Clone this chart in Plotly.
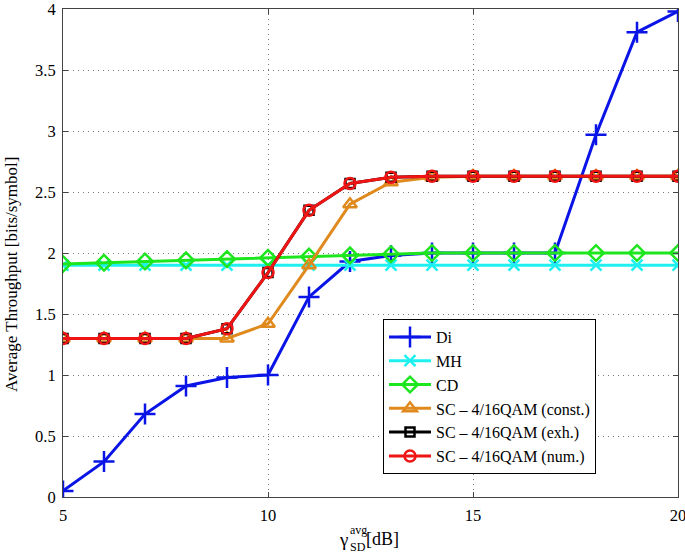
import plotly.graph_objects as go

snr_db = list(range(5, 21))
di = [0.05, 0.29, 0.68, 0.91, 0.98, 1.0, 1.64, 1.93, 1.98, 2.0, 2.0, 2.0, 2.0, 2.97, 3.81, 3.98]
mh = [1.9] * 16
cd = [1.91, 1.92, 1.93, 1.94, 1.95, 1.96, 1.97, 1.98, 1.99, 2.0, 2.0, 2.0, 2.0, 2.0, 2.0, 2.0]
sc_const = [1.3, 1.3, 1.3, 1.3, 1.3, 1.42, 1.9, 2.4, 2.58, 2.62, 2.63, 2.63, 2.63, 2.63, 2.63, 2.63]
sc_exh = [1.3, 1.3, 1.3, 1.3, 1.38, 1.84, 2.35, 2.57, 2.62, 2.63, 2.63, 2.63, 2.63, 2.63, 2.63, 2.63]
sc_num = [1.3, 1.3, 1.3, 1.3, 1.38, 1.84, 2.35, 2.57, 2.62, 2.63, 2.63, 2.63, 2.63, 2.63, 2.63, 2.63]

series = [
    ("Di", di, "#0a14e6", "cross-thin-open", 15),
    ("MH", mh, "#1ef0f0", "x-thin-open", 11),
    ("CD", cd, "#1ee61e", "diamond-open", 12),
    ("SC \u2013 4/16QAM (const.)", sc_const, "#e08a1e", "triangle-up-open", 12),
    ("SC \u2013 4/16QAM (exh.)", sc_exh, "#000000", "square-open", 9),
    ("SC \u2013 4/16QAM (num.)", sc_num, "#f01414", "circle-open", 11),
]

fig = go.Figure()
for name, vals, color, sym, size in series:
    fig.add_trace(go.Scatter(
        x=snr_db, y=vals, name=name, mode="lines+markers",
        line=dict(color=color, width=3),
        marker=dict(symbol=sym, size=size, color=color, line=dict(color=color, width=2.5)),
    ))

font = "Liberation Serif, Times New Roman, serif"
axis_common = dict(
    showline=True, linecolor="#444", linewidth=1, mirror="ticks",
    ticks="inside", ticklen=5, tickcolor="#444",
    showgrid=True, gridcolor="#777", griddash="1px,4px", gridwidth=1,
    zeroline=False, tickfont=dict(family=font, size=16.5, color="black"),
    automargin=False, ticklabeloverflow="allow",
)
fig.update_xaxes(range=[5, 20], dtick=5, ticklabelstandoff=3, **axis_common)
fig.update_yaxes(range=[0, 4], dtick=0.5, ticklabelstandoff=3, **axis_common)

L, R, T, B = 63, 7, 9, 57
W, H = 685, 554
pw, ph = W - L - R, H - T - B

def px(xp):
    return (xp - L) / pw

def py(yp):
    return (H - B - yp) / ph

annots = [
    dict(text="Average Throughput [bits/symbol]", x=px(11), y=py(275), textangle=-90,
         font=dict(family=font, size=17, color="black")),
    dict(text="\u03b3", x=px(343), y=py(539), font=dict(family=font, size=19, color="black")),
    dict(text="avg", x=px(348), y=py(530), xanchor="left", font=dict(family=font, size=12, color="black")),
    dict(text="SD", x=px(348), y=py(547), xanchor="left", font=dict(family=font, size=12, color="black")),
    dict(text="[dB]", x=px(364), y=py(539), xanchor="left", font=dict(family=font, size=18, color="black")),
]
for a in annots:
    a.update(xref="paper", yref="paper", showarrow=False, yanchor="middle")
    a.setdefault("xanchor", "center")
    fig.add_annotation(**a)

fig.update_layout(
    width=W, height=H,
    margin=dict(l=L, r=R, t=T, b=B),
    paper_bgcolor="white", plot_bgcolor="white",
    font=dict(family=font, size=15, color="black"),
    legend=dict(x=px(383), y=py(319), xanchor="left", yanchor="top",
                bgcolor="white", bordercolor="black", borderwidth=1,
                font=dict(family=font, size=16, color="black"),
                itemwidth=42, tracegroupgap=0),
    showlegend=True,
)
fig.write_html("out.html", config={"displayModeBar": False},
               post_script="document.body.style.margin='0';document.body.style.overflow='hidden';")
